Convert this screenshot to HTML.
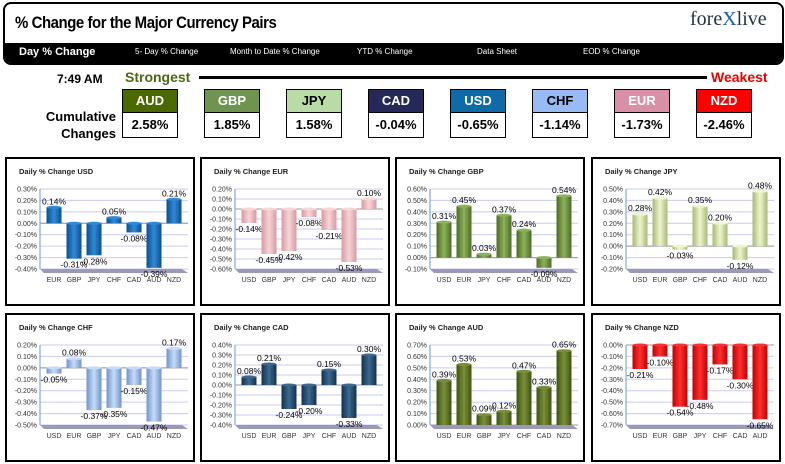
<!DOCTYPE html>
<html><head><meta charset="utf-8">
<style>
body{margin:0;width:785px;height:464px;background:#fff;font-family:"Liberation Sans",sans-serif;position:relative;overflow:hidden}
.abs{position:absolute}
.hdr{left:3px;top:2px;width:777px;height:59px;border:2px solid #000;border-radius:8px;overflow:hidden}
.nav{left:0;top:39px;width:777px;height:20px;background:#000;color:#fff}
.nav span{position:absolute;top:4px;font-size:8px}
.box{width:54px;height:47px;border:1px solid #000;text-align:center;font-weight:bold}
.box .t{height:22px;line-height:22px;font-size:13px;color:#fff;border-bottom:1px solid #000}
.box .v{line-height:24px;font-size:13px;color:#000;background:#fff}
.panel{width:186px;height:145px;border:2px solid #000;background:#fff}
</style></head><body>
<div class="abs hdr">
 <div class="abs" style="left:10px;top:9px;font-size:17px;font-weight:bold;letter-spacing:-0.5px;transform:scaleX(0.88);transform-origin:0 0">% Change for the Major Currency Pairs</div>
 <div class="abs" style="left:685px;top:4px;font-size:20px;font-family:'Liberation Serif',serif;color:#234">fore<span style="color:#1a5fa8">X</span>live</div>
 <div class="abs nav">
  <span style="left:14px;top:3px;font-size:11px;font-weight:bold">Day % Change</span>
  <span style="left:130px">5- Day % Change</span>
  <span style="left:225px">Month to Date % Change</span>
  <span style="left:352px">YTD % Change</span>
  <span style="left:472px">Data Sheet</span>
  <span style="left:578px">EOD % Change</span>
 </div>
</div>
<div class="abs" style="left:57px;top:72px;font-size:12px;font-weight:bold">7:49 AM</div>
<div class="abs" style="left:125px;top:69px;font-size:14px;font-weight:bold;color:#4a6a10">Strongest</div>
<div class="abs" style="left:199px;top:76px;width:508px;height:3px;background:#000"></div>
<div class="abs" style="left:711px;top:69px;font-size:14px;font-weight:bold;color:#e00">Weakest</div>
<div class="abs" style="left:30px;top:108px;width:86px;text-align:right;font-size:13px;font-weight:bold;line-height:17px">Cumulative<br>Changes</div>
<div id="boxes"></div>
<div id="panels"></div>
<script>
const boxCur=["AUD","GBP","JPY","CAD","USD","CHF","EUR","NZD"];
const boxVal=["2.58%","1.85%","1.58%","-0.04%","-0.65%","-1.14%","-1.73%","-2.46%"];
const boxCol=["#4a6a00","#6f9450","#b9dca6","#26285a","#0f6aa8","#99bbf5","#d98fa6","#ff0000"];
const bx=document.getElementById('boxes');
boxCur.forEach((c,i)=>{
 const d=document.createElement('div');d.className='abs box';
 d.style.left=(122+i*82)+'px';d.style.top='89px';
 
 
 d.innerHTML='<div class="t" style="background:'+boxCol[i]+';color:'+(i==2||i==5?'#000':'#fff')+'">'+c+'</div><div class="v">'+boxVal[i]+'</div>';
 bx.appendChild(d);
});
const titles=["USD","EUR","GBP","JPY","CHF","CAD","AUD","NZD"];
const cats=[["EUR","GBP","JPY","CHF","CAD","AUD","NZD"],["USD","GBP","JPY","CHF","CAD","AUD","NZD"],["USD","EUR","JPY","CHF","CAD","AUD","NZD"],["USD","EUR","GBP","CHF","CAD","AUD","NZD"],["USD","EUR","GBP","JPY","CAD","AUD","NZD"],["USD","EUR","GBP","JPY","CHF","AUD","NZD"],["USD","EUR","GBP","JPY","CHF","CAD","NZD"],["USD","EUR","GBP","JPY","CHF","CAD","AUD"]];
const vals=[[0.14,-0.31,-0.28,0.05,-0.08,-0.39,0.21],[-0.14,-0.45,-0.42,-0.08,-0.21,-0.53,0.10],[0.31,0.45,0.03,0.37,0.24,-0.09,0.54],[0.28,0.42,-0.03,0.35,0.20,-0.12,0.48],[-0.05,0.08,-0.37,-0.35,-0.15,-0.47,0.17],[0.08,0.21,-0.24,-0.20,0.15,-0.33,0.30],[0.39,0.53,0.09,0.12,0.47,0.33,0.65],[-0.21,-0.10,-0.54,-0.48,-0.17,-0.30,-0.65]];
const yMax=[0.3,0.2,0.6,0.5,0.2,0.4,0.7,0.0];
const yMin=[-0.4,-0.6,-0.1,-0.2,-0.5,-0.4,0.0,-0.7];
const barCol=[["#0b4f8a","#2f8ad8"],["#d79aa0","#f6d6d8"],["#4d6a25","#8bb35a"],["#a8b878","#eef6cc"],["#6f94c8","#c6dcf8"],["#13304f","#3c6a8f"],["#3d5410","#7a8f3a"],["#c00000","#ff3030"]];
const lefts=[5,200,395,591],tops=[157,313];
const NS="http://www.w3.org/2000/svg";
const P=document.getElementById('panels');
titles.forEach((t,k)=>{
 const px=lefts[k%4],py=tops[Math.floor(k/4)];
 const d=document.createElement('div');d.className='abs panel';
 d.style.left=px+'px';d.style.top=py+'px';
 
 
 const s=document.createElementNS(NS,'svg');s.setAttribute('width',186);s.setAttribute('height',145);
 s.style.position='absolute';s.style.left='0';s.style.top='0';
 s.style.fontFamily='"Liberation Sans",sans-serif';
 const top=30,bot=110,ax=33,right=181;
 const y=v=>top+(yMax[k]-v)/(yMax[k]-yMin[k])*(bot-top);
 const x=i=>47+i*20;
 let h='<text x="12" y="15" font-size="7.5" font-weight="bold" fill="#222">Daily % Change '+t+'</text>';
 const n=Math.round((yMax[k]-yMin[k])/0.1);
 for(let j=0;j<=n;j++){const v=yMax[k]-j*0.1;const yy=y(v);
  h+='<line x1="'+ax+'" x2="'+right+'" y1="'+yy+'" y2="'+yy+'" stroke="#c8ccf0" stroke-width="1"/>';
  h+='<text x="'+(ax-3)+'" y="'+(yy+2.5)+'" font-size="7" text-anchor="end" fill="#333">'+(v.toFixed(2)=="-0.00"?"0.00":v.toFixed(2))+'%</text>';}
 h+='<polygon points="'+ax+','+bot+' '+(right-6)+','+bot+' '+right+','+(bot+4)+' '+(ax+4)+','+(bot+4)+'" fill="#9a9ab8"/>';
 h+='<line x1="'+ax+'" x2="'+ax+'" y1="'+top+'" y2="'+bot+'" stroke="#6a9ad0"/>';
 const z=y(0);
 h+='<line x1="'+ax+'" x2="'+right+'" y1="'+z+'" y2="'+z+'" stroke="#999"/>';
 h+='<defs><linearGradient id="g'+k+'"><stop offset="0" stop-color="'+barCol[k][0]+'"/><stop offset="0.5" stop-color="'+barCol[k][1]+'"/><stop offset="1" stop-color="'+barCol[k][0]+'"/></linearGradient></defs>';
 vals[k].forEach((v,i)=>{
  const cx=x(i),y1=Math.min(y(v),z),y2=Math.max(y(v),z);
  h+='<rect x="'+(cx-7.5)+'" y="'+y1+'" width="15" height="'+Math.max(1,y2-y1)+'" fill="url(#g'+k+')"/>';
  h+='<ellipse cx="'+cx+'" cy="'+y1+'" rx="7.5" ry="1.5" fill="'+barCol[k][1]+'"/>';
  const ly=v>=0?y(v)-3:y(v)+9;
  h+='<text x="'+cx+'" y="'+ly+'" font-size="8.5" text-anchor="middle" fill="#000">'+v.toFixed(2)+'%</text>';
  h+='<text x="'+cx+'" y="'+(bot+13)+'" font-size="7" text-anchor="middle" fill="#333">'+cats[k][i]+'</text>';
 });
 s.innerHTML=h;d.appendChild(s);P.appendChild(d);
});
</script>
</body></html>
